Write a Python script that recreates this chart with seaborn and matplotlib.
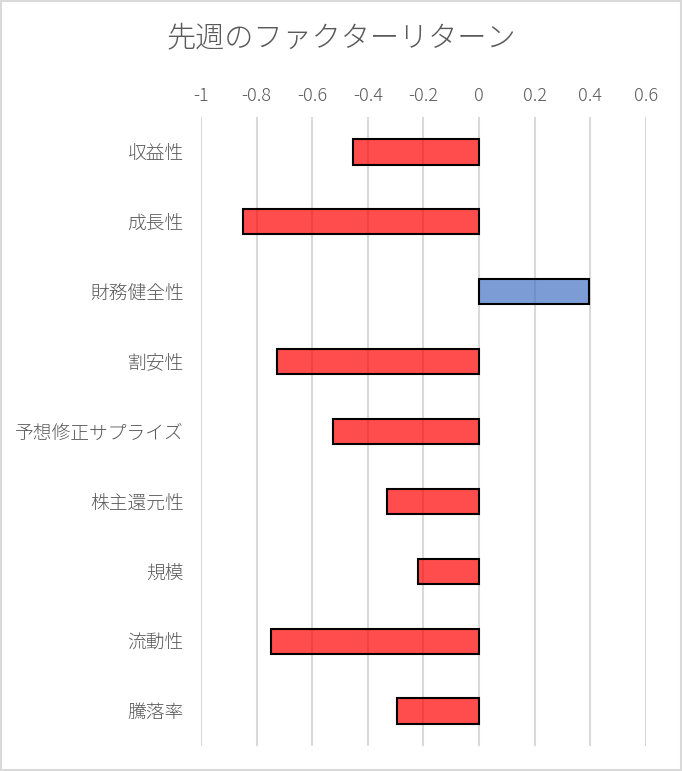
import matplotlib
matplotlib.use("Agg")
import matplotlib.pyplot as plt
from matplotlib.colors import to_rgb
from matplotlib.patches import Rectangle
import seaborn as sns
import pandas as pd

# factor returns for last week
factors = ["収益性", "成長性", "財務健全性", "割安性", "予想修正サプライズ",
           "株主還元性", "規模", "流動性", "騰落率"]
returns = [-0.453, -0.849, 0.394, -0.725, -0.524, -0.331, -0.220, -0.747, -0.294]
x_ticks = [-1, -0.8, -0.6, -0.4, -0.2, 0, 0.2, 0.4, 0.6]
x_tick_labels = ["-1", "-0.8", "-0.6", "-0.4", "-0.2", "0", "0.2", "0.4", "0.6"]
title = "先週のファクターリターン"

sns.set_theme(style="white")
plt.rcParams['font.family'] = ['Noto Sans CJK JP', 'DejaVu Sans']

df = pd.DataFrame({"factor": factors, "ret": returns})
palette = {f: ("#4472C4" if r > 0 else "#FF0000") for f, r in zip(factors, returns)}

fig = plt.figure(figsize=(6.82, 7.71), dpi=100)
ax = fig.add_axes([0.2947, 0.0324, 0.9472 - 0.2947, 0.8482 - 0.0324])

sns.barplot(data=df, x="ret", y="factor", hue="factor", palette=palette, orient="h",
            legend=False, width=0.36, saturation=1, edgecolor="black", linewidth=1.5,
            ax=ax, zorder=3)

# translucent fill, solid black outline
for bar in ax.patches:
    bar.set_facecolor((*to_rgb(bar.get_facecolor()), 0.7))

ax.set_xlim(-1, 0.6)
ax.set_xticks(x_ticks)
ax.set_xticklabels(x_tick_labels)
ax.xaxis.tick_top()
ax.grid(axis="x", color="#D9D9D9", linewidth=1.5, zorder=0)
ax.set_axisbelow(True)
for s in ax.spines.values():
    s.set_visible(False)
ax.tick_params(axis="x", length=0, pad=9, labelsize=13, labelcolor="#595959")
ax.tick_params(axis="y", length=0, pad=12.5, labelsize=13.5, labelcolor="#595959")
for lab in ax.get_xticklabels() + ax.get_yticklabels():
    lab.set_fontweight("light")
ax.set_xlabel("")
ax.set_ylabel("")

fig.text(0.5, 0.951, title, ha="center", va="center", fontsize=21,
         fontweight="light", color="#595959")

# light chart-area border
fig.patches.append(Rectangle((0.0015, 0.0015), 0.997, 0.997, transform=fig.transFigure,
                             fill=False, edgecolor="#D9D9D9", linewidth=1.5))

fig.savefig("out.png", dpi=100)
